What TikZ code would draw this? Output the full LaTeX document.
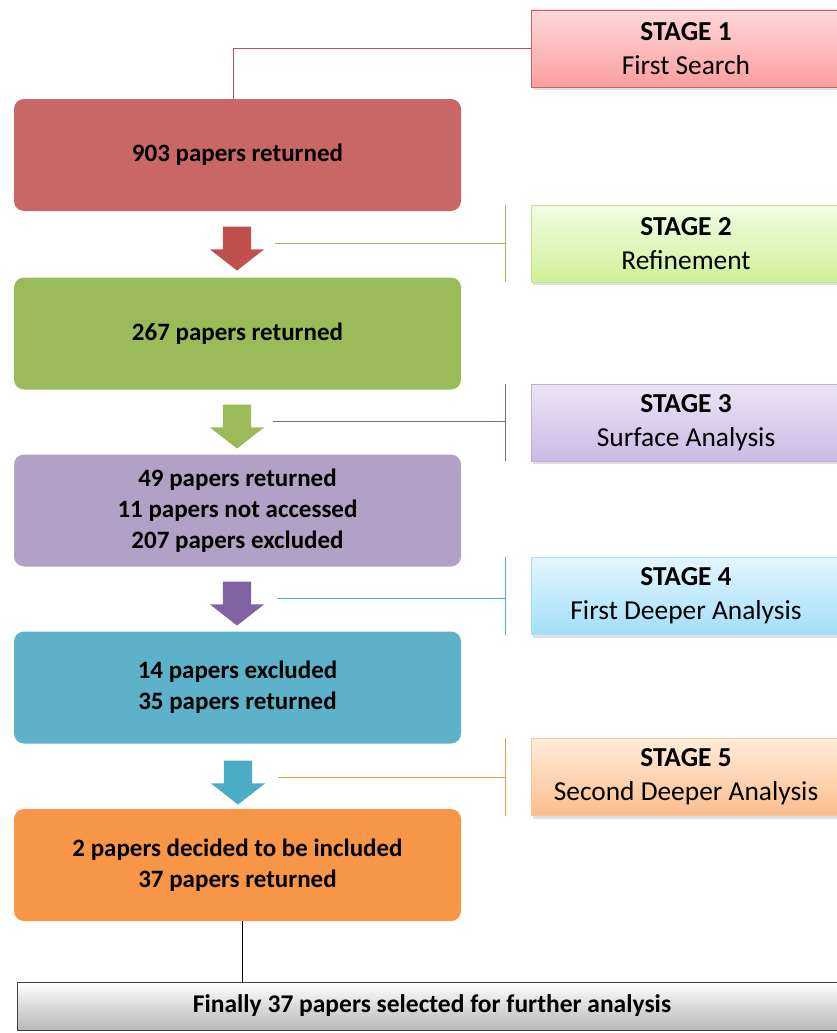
\documentclass[tikz,border=0pt]{standalone}
\usepackage{fontspec}
\setmainfont{Carlito}
\usetikzlibrary{shadows,shapes.arrows}
\definecolor{resred}{RGB}{200,103,101}
\definecolor{resgreen}{RGB}{155,187,89}
\definecolor{respurple}{RGB}{178,161,199}
\definecolor{resteal}{RGB}{93,177,200}
\definecolor{resorange}{RGB}{247,150,70}
\definecolor{arrred}{RGB}{192,80,77}
\definecolor{arrpurple}{RGB}{128,100,162}
\definecolor{arrteal}{RGB}{75,172,198}
% stage box gradients
\definecolor{sredtop}{RGB}{255,216,216}
\definecolor{sredbot}{RGB}{250,158,158}
\definecolor{sredline}{RGB}{205,95,95}
\definecolor{sgreentop}{RGB}{242,252,228}
\definecolor{sgreenbot}{RGB}{208,240,152}
\definecolor{sgreenline}{RGB}{196,224,152}
\definecolor{spurpletop}{RGB}{236,228,246}
\definecolor{spurplebot}{RGB}{202,186,230}
\definecolor{spurpleline}{RGB}{190,174,216}
\definecolor{stealtop}{RGB}{228,246,255}
\definecolor{stealbot}{RGB}{162,222,248}
\definecolor{stealline}{RGB}{172,220,240}
\definecolor{sorangetop}{RGB}{255,236,218}
\definecolor{sorangebot}{RGB}{252,190,140}
\definecolor{sorangeline}{RGB}{245,200,160}
\newcommand\boxfont{\fontsize{25}{31}\selectfont\bfseries}
\newcommand\stagefont{\fontsize{27.4}{34}\selectfont}

\begin{document}
\begin{tikzpicture}[x=1pt, y=-1pt,
  resbox/.style={rounded corners=10pt, minimum width=447pt, minimum height=112pt,
    inner sep=0pt, align=center, font=\boxfont},
  stagebox/.style={draw=#1line, top color=#1top, bottom color=#1bot, thin,
    minimum width=310pt, minimum height=77pt, inner sep=0pt, align=center,
    font=\stagefont, drop shadow={opacity=0.25, shadow xshift=2pt, shadow yshift=-3pt}},
  flowarrow/.style={single arrow, shape border rotate=270, fill=#1, draw=none,
    minimum height=44pt, minimum width=54pt, inner xsep=14pt, inner ysep=0pt,
    single arrow head extend=13pt, single arrow tip angle=104},
  stageline/.style={draw=#1, line width=0.8pt}]
\useasboundingbox (0,0) rectangle (837,1033);

% result boxes
\node[resbox, fill=resred] (res1) at (237.5,155) {903 papers returned};
\node[resbox, fill=resgreen] (res2) at (237.5,333.5) {267 papers returned};
\node[resbox, fill=respurple] (res3) at (237.5,510.5) {49 papers returned\\11 papers not accessed\\207 papers excluded};
\node[resbox, fill=resteal] (res4) at (237.5,687.5) {14 papers excluded\\35 papers returned};
\node[resbox, fill=resorange] (res5) at (237.5,865) {2 papers decided to be included\\37 papers returned};

% flow arrows
\node[flowarrow=arrred] (arr1) at (237,243) {};
\node[flowarrow=resgreen] (arr2) at (237,421) {};
\node[flowarrow=arrpurple] (arr3) at (237,598) {};
\node[flowarrow=arrteal] (arr4) at (238,777) {};

% stage boxes
\node[stagebox=sred] (stage1) at (686,48.5) {\textbf{STAGE 1}\\First Search};
\node[stagebox=sgreen] (stage2) at (686,243.5) {\textbf{STAGE 2}\\Refinement};
\node[stagebox=spurple] (stage3) at (686,422.5) {\textbf{STAGE 3}\\Surface Analysis};
\node[stagebox=steal] (stage4) at (686,596) {\textbf{STAGE 4}\\First Deeper Analysis};
\node[stagebox=sorange] (stage5) at (686,777) {\textbf{STAGE 5}\\Second Deeper Analysis};

% stage links
\draw[stageline=arrred] ([xshift=-4pt]res1.north) |- (stage1.west);
\coordinate (b2) at ([xshift=-25pt]stage2.west);
\coordinate (b3) at ([xshift=-25pt]stage3.west);
\coordinate (b4) at ([xshift=-25pt]stage4.west);
\coordinate (b5) at ([xshift=-25pt]stage5.west);
\draw[stageline=resgreen] (b2 |- stage2.north) -- (b2 |- stage2.south);
\draw[stageline=resgreen] ([xshift=38pt]arr1.center) -- (arr1.center -| b2);
\draw[stageline=arrpurple] (b3 |- stage3.north) -- (b3 |- stage3.south);
\draw[stageline=arrpurple] ([xshift=36pt]arr2.center) -- (arr2.center -| b3);
\draw[stageline=arrteal] (b4 |- stage4.north) -- (b4 |- stage4.south);
\draw[stageline=arrteal] ([xshift=40pt]arr3.center) -- (arr3.center -| b4);
\draw[stageline=resorange] (b5 |- stage5.north) -- (b5 |- stage5.south);
\draw[stageline=resorange] ([xshift=40pt]arr4.center) -- (arr4.center -| b5);

% final selection
\node[draw=black!75, top color=white, bottom color=black!28, minimum width=830pt,
  minimum height=48pt, inner sep=0pt, font=\fontsize{25.5}{30}\selectfont\bfseries]
  (final) at (432,1006) {Finally 37 papers selected for further analysis};
\draw[black, line width=0.8pt] ([xshift=4.5pt]res5.south) -- ([xshift=4.5pt]res5.south |- final.north);
\end{tikzpicture}
\end{document}
